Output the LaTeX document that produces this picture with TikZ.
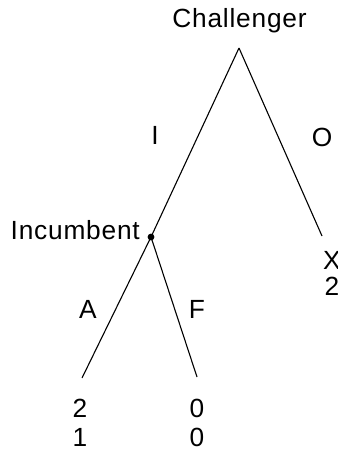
\documentclass[tikz,border=0pt]{standalone}
\usepackage{fontspec}
\setmainfont{Liberation Sans}[LetterSpace=3]
\begin{document}
\begin{tikzpicture}[x=1pt,y=-1pt,
  lbl/.style={inner sep=0pt,anchor=base,font=\fontsize{26.3}{30}\selectfont},
  edge/.style={line width=1.1pt}]
\useasboundingbox (0,0) rectangle (337,452);
\coordinate (root) at (239,48);
\coordinate (inc) at (151,237);
\coordinate (leafX) at (322,236);
\coordinate (leafA) at (82,378);
\coordinate (leafF) at (197,377);
\draw[edge] (root) -- (inc);
\draw[edge] (root) -- (leafX);
\draw[edge] (inc) -- (leafA);
\draw[edge] (inc) -- (leafF);
\fill (inc) circle (3.4);
\node[lbl] (tch) at (239.5,27.5) {Challenger};
\node[lbl,anchor=base east] (tinc) at (140,239) {Incumbent};
\node[lbl] (tI) at (155,144) {I};
\node[lbl] (tO) at (322,146) {O};
\node[lbl] (tA) at (88,318) {A};
\node[lbl] (tF) at (197,318) {F};
\node[lbl] (pA1) at (80,417.5) {2};
\node[lbl] (pA2) at (80,446) {1};
\node[lbl] (pF1) at (197,417.5) {0};
\node[lbl] (pF2) at (197,446) {0};
\node[lbl] (pX1) at (332,269) {X};
\node[lbl] (pX2) at (332,295) {2};
\end{tikzpicture}
\end{document}
